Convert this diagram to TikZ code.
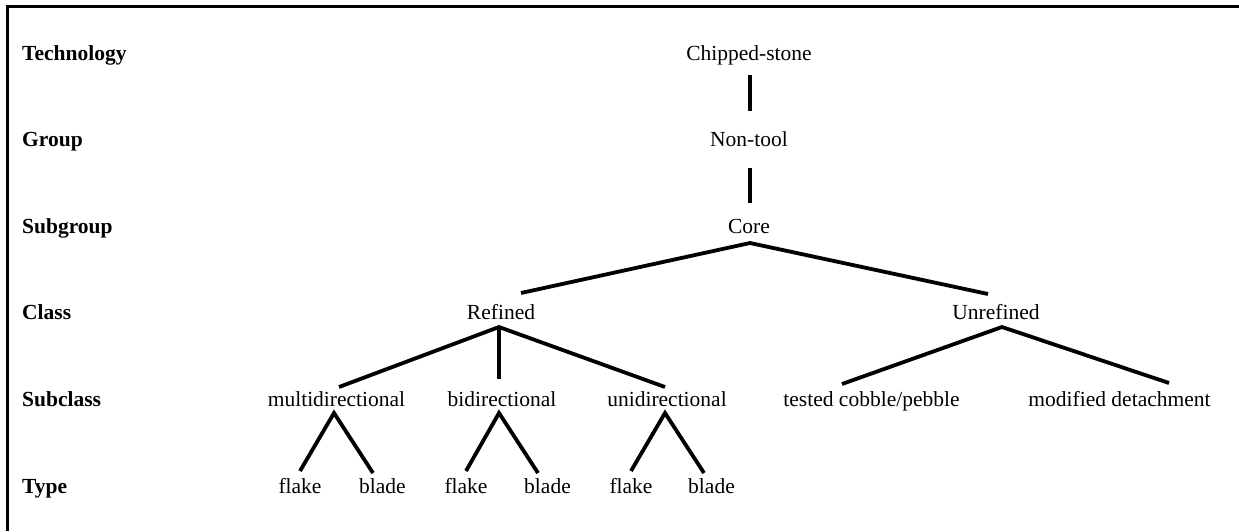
\documentclass[tikz,border=0pt]{standalone}
\usepackage{fontspec}
\setmainfont{Liberation Serif}
\begin{document}
\begin{tikzpicture}[x=1pt,y=-1pt,
  lbl/.style={font=\fontsize{21.5}{24}\selectfont, inner sep=0pt, anchor=base},
  rowlbl/.style={font=\fontsize{21.5}{24}\selectfont\bfseries, inner sep=0pt, anchor=base west},
  edge/.style={line width=3.8pt, line cap=butt},
  frame/.style={line width=3pt}]
\useasboundingbox (0,0) rectangle (1239,531);
% frame
\coordinate (fbl) at (7.5,531);
\coordinate (ftl) at (7.5,6.5);
\coordinate (ftr) at (1239,6.5);
\draw[frame] (fbl) -- (ftl) -- (ftr);
% row labels
\node[rowlbl] (rTech) at (22,60) {Technology};
\node[rowlbl] (rGroup) at (22,146.5) {Group};
\node[rowlbl] (rSubg) at (22,233) {Subgroup};
\node[rowlbl] (rClass) at (22,319.5) {Class};
\node[rowlbl] (rSubc) at (22,406) {Subclass};
\node[rowlbl] (rType) at (22,493) {Type};
% tree nodes
\node[lbl] (chip) at (749,60) {Chipped-stone};
\node[lbl] (nontool) at (749,146.5) {Non-tool};
\node[lbl] (core) at (749,233) {Core};
\node[lbl] (ref) at (501,319) {Refined};
\node[lbl] (unref) at (996,319) {Unrefined};
\node[lbl] (multi) at (336.5,406.5) {multidirectional};
\node[lbl] (bi) at (502,406.5) {bidirectional};
\node[lbl] (uni) at (667,406.5) {unidirectional};
\node[lbl] (tested) at (871.5,406.5) {tested cobble/pebble};
\node[lbl] (modif) at (1119.5,406.5) {modified detachment};
\node[lbl] (fl1) at (300,493) {flake};
\node[lbl] (bl1) at (382.5,493) {blade};
\node[lbl] (fl2) at (466,493) {flake};
\node[lbl] (bl2) at (547.5,493) {blade};
\node[lbl] (fl3) at (631,493) {flake};
\node[lbl] (bl3) at (711.5,493) {blade};
% connector end points
\coordinate (chipB) at (750,75);
\coordinate (nontoolT) at (750,111);
\coordinate (nontoolB) at (750,168);
\coordinate (coreT) at (750,203);
\coordinate (coreA) at (750,243);
\coordinate (refT) at (521,293);
\coordinate (unrefT) at (988,294);
\coordinate (refA) at (499,327);
\coordinate (multiT) at (339,387);
\coordinate (biT) at (499,379);
\coordinate (uniT) at (665,387);
\coordinate (unrefA) at (1002,327);
\coordinate (testedT) at (842,384);
\coordinate (modifT) at (1169,383);
\coordinate (multiA) at (334,413);
\coordinate (fl1T) at (300,471);
\coordinate (bl1T) at (373,473);
\coordinate (biA) at (499,413);
\coordinate (fl2T) at (466,471);
\coordinate (bl2T) at (538,473);
\coordinate (uniA) at (665,413);
\coordinate (fl3T) at (631,471);
\coordinate (bl3T) at (704,473);
% connectors
\draw[edge] (chipB) -- (nontoolT);
\draw[edge] (nontoolB) -- (coreT);
\draw[edge] (refT) -- (coreA) -- (unrefT);
\draw[edge] (multiT) -- (refA) -- (uniT);
\draw[edge] (refA) -- (biT);
\draw[edge] (testedT) -- (unrefA) -- (modifT);
\draw[edge] (fl1T) -- (multiA) -- (bl1T);
\draw[edge] (fl2T) -- (biA) -- (bl2T);
\draw[edge] (fl3T) -- (uniA) -- (bl3T);
\end{tikzpicture}
\end{document}
